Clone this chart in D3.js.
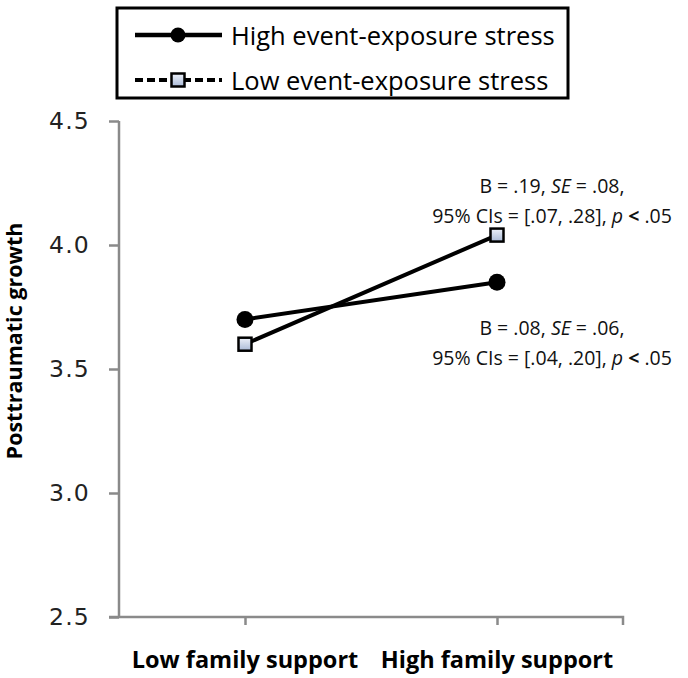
<!DOCTYPE html>
<html><head><meta charset="utf-8">
<script src="https://cdn.jsdelivr.net/npm/d3@7"></script>
<style>body{margin:0;background:#fff}</style>
</head><body>
<svg id="chart" width="688" height="678"></svg>
<script>
const categories = ["Low family support", "High family support"];
const seriesNames = ["High event-exposure stress", "Low event-exposure stress"];
const highStress = [3.70, 3.85];
const lowStress = [3.60, 4.04];
const yTicks = [2.5, 3.0, 3.5, 4.0, 4.5];
const yLabel = "Posttraumatic growth";
const annotations = [
  {lines: [["B = .19, ", false], ["SE", true], [" = .08,", false]], line2: "[.07, .28]", y: 4.18},
  {lines: [["B = .08, ", false], ["SE", true], [" = .06,", false]], line2: "[.04, .20]", y: 3.61}
];

const svg = d3.select("#chart");
const m = {left: 119, right: 623, top: 121, bottom: 617};
const x = d3.scalePoint().domain(categories).range([m.left, m.right]).padding(0.5);
const y = d3.scaleLinear().domain([2.5, 4.5]).range([m.bottom, m.top]);

const defs = svg.append("defs");
const g = defs.append("linearGradient").attr("id", "sq").attr("x1", 0).attr("y1", 0).attr("x2", 0).attr("y2", 1);
g.append("stop").attr("offset", "0%").attr("stop-color", "#eef2fa");
g.append("stop").attr("offset", "100%").attr("stop-color", "#a9b9d6");

const axisColor = "#8a8a8a";
// y axis
const yAxis = svg.append("g").attr("transform", `translate(${m.left},0)`)
  .call(d3.axisLeft(y).tickValues(yTicks).tickSize(10).tickFormat(d3.format(".1f")));
yAxis.select(".domain").attr("stroke", axisColor).attr("stroke-width", 2.5).attr("d", `M0,${m.top}H0V${m.bottom}`);
yAxis.selectAll(".tick line").attr("stroke", axisColor).attr("stroke-width", 2.5);
yAxis.selectAll(".tick text").attr("x", -29).attr("font-family", "DejaVu Sans").attr("font-size", 23.5)
  .attr("letter-spacing", 1.2).attr("fill", "#222");
// x axis
const xAxis = svg.append("g").attr("transform", `translate(0,${m.bottom})`)
  .call(d3.axisBottom(x).tickSize(8).tickFormat(""));
xAxis.select(".domain").attr("stroke", axisColor).attr("stroke-width", 2.5).attr("d", `M${m.left - 10},0H${m.right}V8`);
xAxis.selectAll(".tick line").attr("stroke", axisColor).attr("stroke-width", 2.5);
svg.append("g").selectAll("text").data(categories).join("text")
  .attr("x", d => x(d)).attr("y", 668).attr("text-anchor", "middle")
  .attr("font-family", "Open Sans").attr("font-weight", "bold").attr("font-size", 23.5)
  .attr("fill", "#000").text(d => d);

// y label
svg.append("text").attr("transform", "translate(22,341) rotate(-90)")
  .attr("text-anchor", "middle").attr("font-family", "Open Sans").attr("font-weight", "bold")
  .attr("font-size", 21.5).attr("fill", "#000").text(yLabel);

// lines
const line = d3.line().x((d, i) => x(categories[i])).y(d => y(d));
svg.append("path").datum(highStress).attr("d", line).attr("fill", "none").attr("stroke", "#000").attr("stroke-width", 4);
svg.append("path").datum(lowStress).attr("d", line).attr("fill", "none").attr("stroke", "#000").attr("stroke-width", 4);
svg.append("g").selectAll("circle").data(highStress).join("circle")
  .attr("cx", (d, i) => x(categories[i])).attr("cy", d => y(d)).attr("r", 8.5).attr("fill", "#000");
const s = 13;
svg.append("g").selectAll("rect").data(lowStress).join("rect")
  .attr("x", (d, i) => x(categories[i]) - s / 2).attr("y", d => y(d) - s / 2)
  .attr("width", s).attr("height", s).attr("fill", "url(#sq)").attr("stroke", "#000").attr("stroke-width", 2.5);

// annotations
const ax = 552;
annotations.forEach(a => {
  const t1 = svg.append("text").attr("x", ax).attr("y", y(a.y) - 15).attr("text-anchor", "middle")
    .attr("font-family", "Open Sans").attr("font-size", 19.5).attr("fill", "#111").attr("dominant-baseline", "central");
  a.lines.forEach(([txt, it]) => t1.append("tspan").attr("font-style", it ? "italic" : "normal").text(txt));
  const t2 = svg.append("text").attr("x", ax).attr("y", y(a.y) + 15).attr("text-anchor", "middle")
    .attr("font-family", "Open Sans").attr("font-size", 19.5).attr("fill", "#111").attr("dominant-baseline", "central");
  t2.append("tspan").text("95% CIs = " + a.line2 + ", ");
  t2.append("tspan").attr("font-style", "italic").text("p");
  t2.append("tspan").attr("font-weight", "bold").text(" < ");
  t2.append("tspan").text(".05");
});

// legend
const lg = svg.append("g");
lg.append("rect").attr("x", 117).attr("y", 8).attr("width", 451).attr("height", 90)
  .attr("fill", "#fff").attr("stroke", "#000").attr("stroke-width", 3);
const rows = [35, 80];
lg.append("line").attr("x1", 135).attr("x2", 222).attr("y1", rows[0]).attr("y2", rows[0]).attr("stroke", "#000").attr("stroke-width", 4.5);
lg.append("circle").attr("cx", 178).attr("cy", rows[0]).attr("r", 7.5).attr("fill", "#000");
lg.append("line").attr("x1", 135).attr("x2", 222).attr("y1", rows[1]).attr("y2", rows[1]).attr("stroke", "#000").attr("stroke-width", 4).attr("stroke-dasharray", "8,4");
lg.append("rect").attr("x", 178 - 6.5).attr("y", rows[1] - 6.5).attr("width", 13).attr("height", 13)
  .attr("fill", "url(#sq)").attr("stroke", "#000").attr("stroke-width", 2.5);
lg.selectAll("text.lab").data(seriesNames).join("text").attr("class", "lab")
  .attr("x", 231).attr("y", (d, i) => rows[i]).attr("dominant-baseline", "central")
  .attr("font-family", "Open Sans").attr("font-size", 25.5).attr("fill", "#000").text(d => d);
</script>
</body></html>
